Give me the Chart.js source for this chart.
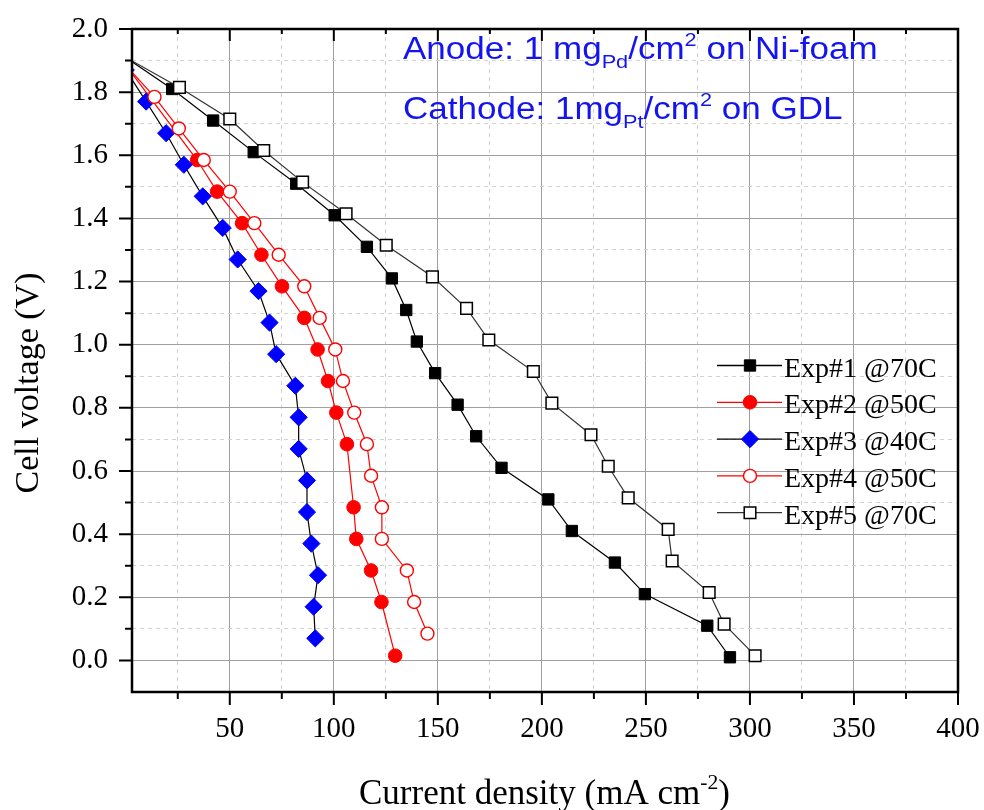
<!DOCTYPE html>
<html>
<head>
<meta charset="utf-8">
<script src="https://cdn.jsdelivr.net/npm/chart.js@4/dist/chart.umd.min.js"></script>
<style>
html,body{margin:0;padding:0;background:#ffffff;}
canvas{display:block;}
</style>
</head>
<body>
<canvas id="chart" width="984" height="810"></canvas>
<script>
// ---------------- data ----------------
const seriesNames = ['Exp#1 @70C', 'Exp#2 @50C', 'Exp#3 @40C', 'Exp#4 @50C', 'Exp#5 @70C'];

const exp1Current = [0, 22.3, 42.0, 61.5, 81.9, 100.4, 115.9, 127.9, 134.8, 139.9, 148.7, 159.5, 168.4, 180.6, 203.1, 214.4, 235.1, 249.5, 279.5, 290.4];
const exp1Voltage = [1.91, 1.81, 1.71, 1.61, 1.51, 1.41, 1.31, 1.21, 1.11, 1.01, 0.91, 0.81, 0.71, 0.61, 0.51, 0.41, 0.31, 0.21, 0.11, 0.01];

const exp2Current = [0, 34.3, 43.9, 55.9, 65.2, 75.1, 85.8, 92.2, 97.2, 101.2, 106.3, 109.5, 110.8, 117.9, 122.9, 129.5];
const exp2Voltage = [1.885, 1.585, 1.485, 1.385, 1.285, 1.185, 1.085, 0.985, 0.885, 0.785, 0.685, 0.485, 0.385, 0.285, 0.185, 0.015];

const exp3Current = [0, 9.8, 19.4, 27.9, 37.0, 46.6, 53.8, 63.8, 69.1, 72.3, 81.5, 83.1, 83.1, 87.1, 87.1, 89.2, 92.4, 90.3, 91.1];
const exp3Voltage = [1.87, 1.77, 1.67, 1.57, 1.47, 1.37, 1.27, 1.17, 1.07, 0.97, 0.87, 0.77, 0.67, 0.57, 0.47, 0.37, 0.27, 0.17, 0.07];

const exp4Current = [0, 13.8, 25.5, 37.5, 50.0, 61.8, 73.5, 85.8, 93.2, 100.7, 104.4, 109.8, 115.9, 117.9, 123.1, 123.1, 135.1, 138.6, 145.0];
const exp4Voltage = [1.885, 1.785, 1.685, 1.585, 1.485, 1.385, 1.285, 1.185, 1.085, 0.985, 0.885, 0.785, 0.685, 0.585, 0.485, 0.385, 0.285, 0.185, 0.085];

const exp5Current = [0, 25.8, 50.0, 66.3, 85.0, 105.9, 125.2, 147.4, 163.8, 174.5, 195.9, 204.8, 223.6, 231.9, 241.5, 260.7, 262.6, 280.4, 287.6, 302.5];
const exp5Voltage = [1.91, 1.815, 1.715, 1.615, 1.515, 1.415, 1.315, 1.215, 1.115, 1.015, 0.915, 0.815, 0.715, 0.615, 0.515, 0.415, 0.315, 0.215, 0.115, 0.015];

const xGridValues = [25, 50, 75, 100, 125, 150, 175, 200, 225, 250, 275, 300, 325, 350, 375, 400];
const xTickLabels = [50, 100, 150, 200, 250, 300, 350, 400];
const yGridValues = [0.0, 0.1, 0.2, 0.3, 0.4, 0.5, 0.6, 0.7, 0.8, 0.9, 1.0, 1.1, 1.2, 1.3, 1.4, 1.5, 1.6, 1.7, 1.8, 1.9, 2.0];
const yTickLabels = [0.0, 0.2, 0.4, 0.6, 0.8, 1.0, 1.2, 1.4, 1.6, 1.8, 2.0];

const xAxisTitle = 'Current density (mA cm';
const xAxisTitleSup = '-2';
const yAxisTitle = 'Cell voltage (V)';

// ---------------- styling ----------------
const SERIF = "'Liberation Serif','Times New Roman',serif";
const SANS = "'Liberation Sans',Arial,sans-serif";
const MAJOR_GRID = '#a0a0a0';
const MINOR_GRID = '#d2d2d2';

const styles = [
  {line: '#000000', style: 'rect',    radius: 8.0, bg: '#000000', border: '#000000', bw: 1},
  {line: '#ff0000', style: 'circle',  radius: 6.8, bg: '#ff0000', border: '#ff0000', bw: 1},
  {line: '#000000', style: 'rectRot', radius: 8.6, bg: '#0000ff', border: '#0000ff', bw: 1},
  {line: '#ff0000', style: 'circle',  radius: 6.5, bg: '#ffffff', border: '#ff0000', bw: 1.4},
  {line: '#333333', style: 'rect',    radius: 8.2, bg: '#ffffff', border: '#000000', bw: 1.5}
];

const currents = [exp1Current, exp2Current, exp3Current, exp4Current, exp5Current];
const voltages = [exp1Voltage, exp2Voltage, exp3Voltage, exp4Voltage, exp5Voltage];

const datasets = seriesNames.map((name, i) => ({
  label: name,
  data: currents[i].map((x, j) => ({x: x, y: voltages[i][j]})),
  showLine: true,
  tension: 0,
  borderColor: styles[i].line,
  borderWidth: 1.2,
  pointStyle: styles[i].style,
  pointRadius: styles[i].radius,
  pointHoverRadius: styles[i].radius,
  pointBackgroundColor: styles[i].bg,
  pointBorderColor: styles[i].border,
  pointBorderWidth: styles[i].bw,
  order: 5 - i
}));

const isMajorX = v => Math.round(v) % 50 === 0;
const isMajorY = v => Math.round(v * 10) % 2 === 0;

function drawRich(ctx, x, y, parts, size, family, color, sx) {
  ctx.save();
  ctx.translate(x, y);
  ctx.scale(sx, 1);
  ctx.fillStyle = color;
  ctx.textAlign = 'left';
  ctx.textBaseline = 'alphabetic';
  let cx = 0;
  parts.forEach(p => {
    let fs = size, dy = 0;
    if (p.sub) { fs = size * 0.62; dy = size * 0.3; }
    if (p.sup) { fs = size * 0.62; dy = -size * 0.42; }
    ctx.font = fs + 'px ' + family;
    ctx.fillText(p.t, cx, dy);
    cx += ctx.measureText(p.t).width;
  });
  ctx.restore();
}

const decorPlugin = {
  id: 'decor',
  afterDraw(chart) {
    const ctx = chart.ctx;
    const xs = chart.scales.x, ys = chart.scales.y;
    const {left, right, top, bottom} = chart.chartArea;
    ctx.save();
    // frame
    ctx.strokeStyle = '#000';
    ctx.lineWidth = 2.5;
    ctx.strokeRect(left, top, right - left, bottom - top);
    // ticks
    ctx.lineWidth = 2;
    ctx.beginPath();
    xGridValues.forEach(v => {
      const px = xs.getPixelForValue(v);
      const maj = isMajorX(v);
      ctx.moveTo(px, bottom); ctx.lineTo(px, bottom + (maj ? 13 : 7));
      ctx.moveTo(px, top); ctx.lineTo(px, top + (maj ? 12 : 5));
    });
    yGridValues.forEach(v => {
      const py = ys.getPixelForValue(v);
      const maj = isMajorY(v);
      ctx.moveTo(left, py); ctx.lineTo(left - (maj ? 13 : 7), py);
    });
    ctx.stroke();

    // axis titles
    ctx.fillStyle = '#000';
    ctx.font = '34px ' + SERIF;
    ctx.textAlign = 'center';
    ctx.textBaseline = 'alphabetic';
    ctx.save();
    ctx.translate(38, 383);
    ctx.rotate(-Math.PI / 2);
    ctx.fillText(yAxisTitle, 0, 0);
    ctx.restore();
    drawRich(ctx, 359, 804, [{t: xAxisTitle}, {t: xAxisTitleSup, sup: true}, {t: ')'}], 35, SERIF, '#000', 1);

    // annotation
    const blue = '#1414ee';
    drawRich(ctx, 403, 59, [{t: 'Anode: 1 mg'}, {t: 'Pd', sub: true}, {t: '/cm'}, {t: '2', sup: true}, {t: ' on Ni-foam'}], 31, SANS, blue, 1.13);
    drawRich(ctx, 403, 119, [{t: 'Cathode: 1mg'}, {t: 'Pt', sub: true}, {t: '/cm'}, {t: '2', sup: true}, {t: ' on GDL'}], 31, SANS, blue, 1.13);

    // legend
    seriesNames.forEach((name, i) => {
      const ry = 365.5 + i * 36.8;
      const st = styles[i];
      ctx.strokeStyle = st.line;
      ctx.lineWidth = 1.3;
      ctx.beginPath();
      ctx.moveTo(717, ry); ctx.lineTo(782, ry);
      ctx.stroke();
      ctx.fillStyle = st.bg;
      ctx.strokeStyle = st.border;
      ctx.lineWidth = st.bw;
      Chart.helpers.drawPoint(ctx, {pointStyle: st.style, radius: st.radius, rotation: 0, borderWidth: st.bw}, 750, ry);
      ctx.fillStyle = '#000';
      ctx.font = '28px ' + SERIF;
      ctx.textAlign = 'left';
      ctx.textBaseline = 'alphabetic';
      ctx.fillText(name, 784, ry + 11);
    });
    ctx.restore();
  }
};

Chart.defaults.font.family = SERIF;
Chart.defaults.color = '#000';

new Chart(document.getElementById('chart'), {
  type: 'scatter',
  data: {datasets: datasets},
  plugins: [decorPlugin],
  options: {
    responsive: false,
    animation: false,
    events: [],
    layout: {padding: {top: 29, right: 26, left: 0, bottom: 0}},
    plugins: {legend: {display: false}, tooltip: {enabled: false}},
    scales: {
      x: {
        type: 'linear',
        position: 'bottom',
        min: 3,
        max: 400,
        afterBuildTicks: s => { s.ticks = xGridValues.map(v => ({value: v})); },
        afterFit: s => { s.height = 118; s.paddingLeft = 0; s.paddingRight = 0; s.paddingTop = 0; s.paddingBottom = 0; },
        ticks: {
          autoSkip: false,
          maxRotation: 0,
          padding: 20,
          font: {size: 29, family: SERIF},
          color: '#000',
          callback: v => xTickLabels.includes(v) ? String(v) : ''
        },
        grid: {
          drawTicks: false,
          lineWidth: 1,
          color: c => (c.tick && isMajorX(c.tick.value)) ? MAJOR_GRID : MINOR_GRID
        },
        border: {
          display: false,
          dash: c => (c.tick && isMajorX(c.tick.value)) ? [] : [4, 4]
        }
      },
      y: {
        type: 'linear',
        position: 'left',
        min: -0.1,
        max: 2.0,
        afterBuildTicks: s => { s.ticks = yGridValues.map(v => ({value: v})); },
        afterFit: s => { s.width = 132; s.paddingLeft = 0; s.paddingRight = 0; s.paddingTop = 0; s.paddingBottom = 0; },
        ticks: {
          autoSkip: false,
          padding: 24,
          font: {size: 29, family: SERIF},
          color: '#000',
          callback: v => yTickLabels.some(t => Math.abs(t - v) < 1e-6) ? v.toFixed(1) : ''
        },
        grid: {
          drawTicks: false,
          lineWidth: 1,
          color: c => (c.tick && isMajorY(c.tick.value)) ? MAJOR_GRID : MINOR_GRID
        },
        border: {
          display: false,
          dash: c => (c.tick && isMajorY(c.tick.value)) ? [] : [4, 4]
        }
      }
    }
  }
});
</script>
</body>
</html>
